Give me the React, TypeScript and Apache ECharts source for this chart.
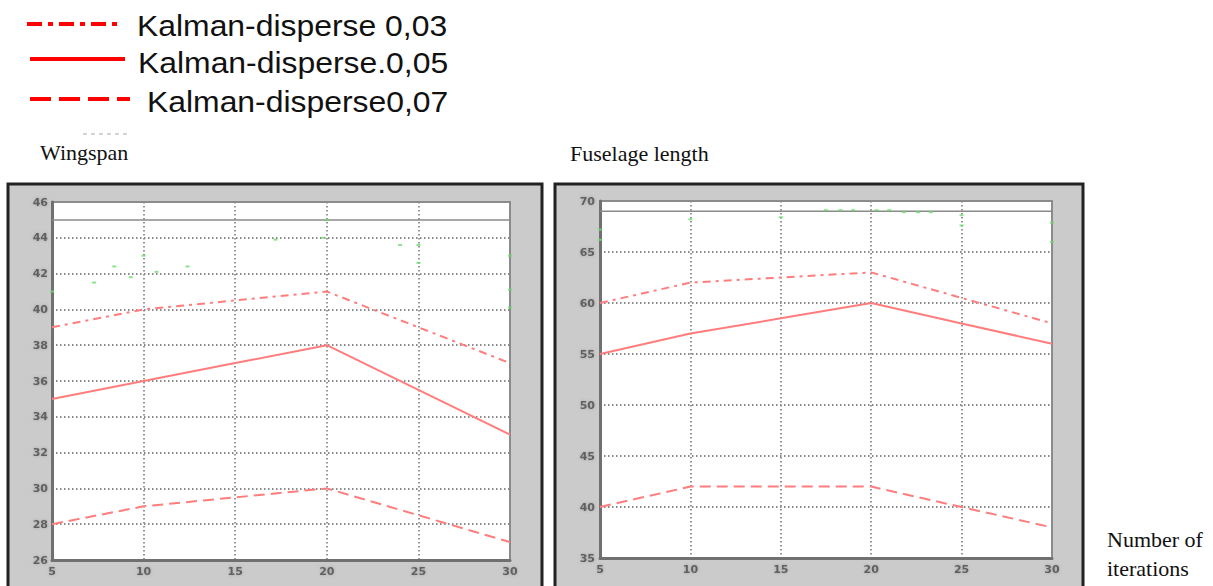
import React, { useEffect, useRef } from "react";
import * as echarts from "echarts";

const iterations = [5, 10, 15, 20, 25, 30];
const seriesNames = ["Kalman-disperse 0,03", "Kalman-disperse.0,05", "Kalman-disperse0,07"];
const panelTitles = ["Wingspan", "Fuselage length"];
const xAxisTitle = ["Number of", "iterations"];

const wingspan003 = [39, 40, 40.5, 41, 39, 37];
const wingspan005 = [35, 36, 37, 38, 35.5, 33];
const wingspan007 = [28, 29, 29.5, 30, 28.5, 27];
const wingspanTrue = [45, 45, 45, 45, 45, 45];

const fuselage003 = [60, 62, 62.5, 63, 60.5, 58];
const fuselage005 = [55, 57, 58.5, 60, 58, 56];
const fuselage007 = [40, 42, 42, 42, 40, 38];
const fuselageTrue = [69, 69, 69, 69, 69, 69];

const wingspanNoise: [number, number][] = [
  [5, 41], [7.3, 41.5], [8.4, 42.4], [9.3, 41.8], [10, 43], [10.7, 42.1], [12.4, 42.4],
  [17.2, 43.9], [19.8, 44], [20, 45], [24, 43.6], [25, 43.6], [25, 42.6], [30, 43], [30, 41.1], [30, 40.1],
];
const fuselageNoise: [number, number][] = [
  [5, 67.2], [5, 66.2], [10, 68.2], [15, 68.4], [17.5, 69.1], [18.3, 69.1], [19, 69.1], [20.3, 69.1],
  [21, 69.1], [21.8, 68.9], [22.6, 68.9], [23.3, 68.9], [25, 68.6], [25, 67.6], [30, 67.9], [30, 66],
];

const wingspanAxis = { min: 26, max: 46, interval: 2 };
const fuselageAxis = { min: 35, max: 70, interval: 5 };
const iterAxis = { min: 5, max: 30, interval: 5 };

const G0 = { left: 52, top: 202, width: 458, height: 358 };
const G1 = { left: 600, top: 201, width: 452, height: 357 };

const lineColor = "#ff7d7d";
const dashDot = [8, 5, 3, 5];
const dashed = [11, 6];

export default function App() {
  const ref = useRef<HTMLDivElement>(null);
  useEffect(() => {
    if (!ref.current) return;
    const chart = echarts.init(ref.current, undefined, { renderer: "svg" });
    const pair = (arr: number[]) => iterations.map((x, i) => [x, arr[i]]);
    const labelStyle = {
      fontFamily: "DejaVu Sans",
      fontSize: 11,
      fontWeight: "bold",
      color: "#606060",
      textShadowColor: "#a0a0a0",
      textShadowBlur: 3,
    };
    const splitLine = { show: true, lineStyle: { color: "#8a8a8a", width: 1.8, type: [1.5, 2.5] } };
    const axisLine = { show: true, onZero: false, lineStyle: { color: "#707070", width: 3 } };
    const xAxis = (gi: number) => ({
      type: "value",
      gridIndex: gi,
      ...iterAxis,
      z: 2,
      axisLine,
      axisTick: { show: false },
      splitLine,
      axisLabel: { ...labelStyle, margin: 6 },
    });
    const yAxis = (gi: number, ax: any, margin: number) => ({
      type: "value",
      gridIndex: gi,
      ...ax,
      z: 2,
      axisLine,
      axisTick: { show: false },
      splitLine,
      axisLabel: { ...labelStyle, margin },
    });
    const mk = (gi: number, name: string, arr: number[], type: any, color = lineColor, width = 2) => ({
      type: "line",
      name,
      xAxisIndex: gi,
      yAxisIndex: gi,
      data: pair(arr),
      showSymbol: false,
      symbol: "none",
      z: 3,
      lineStyle: { color, width, type },
    });
    const noise = (gi: number, pts: [number, number][]) => ({
      type: "scatter",
      xAxisIndex: gi,
      yAxisIndex: gi,
      data: pts,
      symbol: "rect",
      symbolSize: [4, 2],
      z: 3,
      itemStyle: { color: "#6fdc6f", opacity: 0.8 },
    });

    const legendRows = [
      { y: 24, dash: [15, 6, 5, 6], x1: 27, x2: 122, tx: 137, ty: 26 },
      { y: 59, dash: null, x1: 30, x2: 125, tx: 138, ty: 63 },
      { y: 99, dash: [21, 8], x1: 30, x2: 130, tx: 147, ty: 102 },
    ];
    const graphics: any[] = [
      { type: "rect", z: 0, shape: { x: 8, y: 184, width: 534, height: 420 }, style: { fill: "#cbcbcb", stroke: "#222", lineWidth: 3 } },
      { type: "rect", z: 0, shape: { x: 555, y: 184, width: 528, height: 420 }, style: { fill: "#cbcbcb", stroke: "#222", lineWidth: 3 } },
      { type: "line", z: 5, shape: { x1: 83, y1: 134, x2: 127, y2: 134 }, style: { stroke: "#d4d4d4", lineWidth: 2, lineDash: [4, 4] } },
      { type: "text", z: 5, x: 40, y: 152, style: { text: panelTitles[0], fontFamily: "Liberation Serif", fontSize: 22, fill: "#111", verticalAlign: "middle" } },
      { type: "text", z: 5, x: 570, y: 153, style: { text: panelTitles[1], fontFamily: "Liberation Serif", fontSize: 22, fill: "#111", verticalAlign: "middle" } },
      { type: "text", z: 5, x: 1107, y: 539, style: { text: xAxisTitle[0], fontFamily: "Liberation Serif", fontSize: 22, fill: "#111", verticalAlign: "middle" } },
      { type: "text", z: 5, x: 1107, y: 568, style: { text: xAxisTitle[1], fontFamily: "Liberation Serif", fontSize: 22, fill: "#111", verticalAlign: "middle" } },
    ];
    legendRows.forEach((r, i) => {
      graphics.push({
        type: "line",
        z: 5,
        shape: { x1: r.x1, y1: r.y, x2: r.x2, y2: r.y },
        style: { stroke: "#ff0000", lineWidth: 4, lineDash: r.dash || undefined },
      });
      graphics.push({
        type: "text",
        z: 5,
        x: r.tx,
        y: r.ty,
        scaleX: 1.1,
        style: { text: seriesNames[i], fontFamily: "Liberation Sans", fontSize: 29, fill: "#111", verticalAlign: "middle" },
      });
    });

    chart.setOption({
      animation: false,
      grid: [
        { ...G0, show: true, z: 1, backgroundColor: "#ffffff", borderColor: "#8c8c8c", borderWidth: 2 },
        { ...G1, show: true, z: 1, backgroundColor: "#ffffff", borderColor: "#8c8c8c", borderWidth: 2 },
      ],
      xAxis: [xAxis(0), xAxis(1)],
      yAxis: [yAxis(0, wingspanAxis, 4), yAxis(1, fuselageAxis, 5)],
      graphic: graphics,
      series: [
        mk(0, "reference", wingspanTrue, "solid", "#8a8a8a", 1.5),
        noise(0, wingspanNoise),
        mk(0, seriesNames[0], wingspan003, dashDot),
        mk(0, seriesNames[1], wingspan005, "solid"),
        mk(0, seriesNames[2], wingspan007, dashed),
        mk(1, "reference", fuselageTrue, "solid", "#8a8a8a", 1.5),
        noise(1, fuselageNoise),
        mk(1, seriesNames[0], fuselage003, dashDot),
        mk(1, seriesNames[1], fuselage005, "solid"),
        mk(1, seriesNames[2], fuselage007, dashed),
      ],
    });
    return () => chart.dispose();
  }, []);
  return <div ref={ref} style={{ position: "fixed", left: 0, top: 0, width: 1213, height: 586, background: "#fff" }} />;
}
